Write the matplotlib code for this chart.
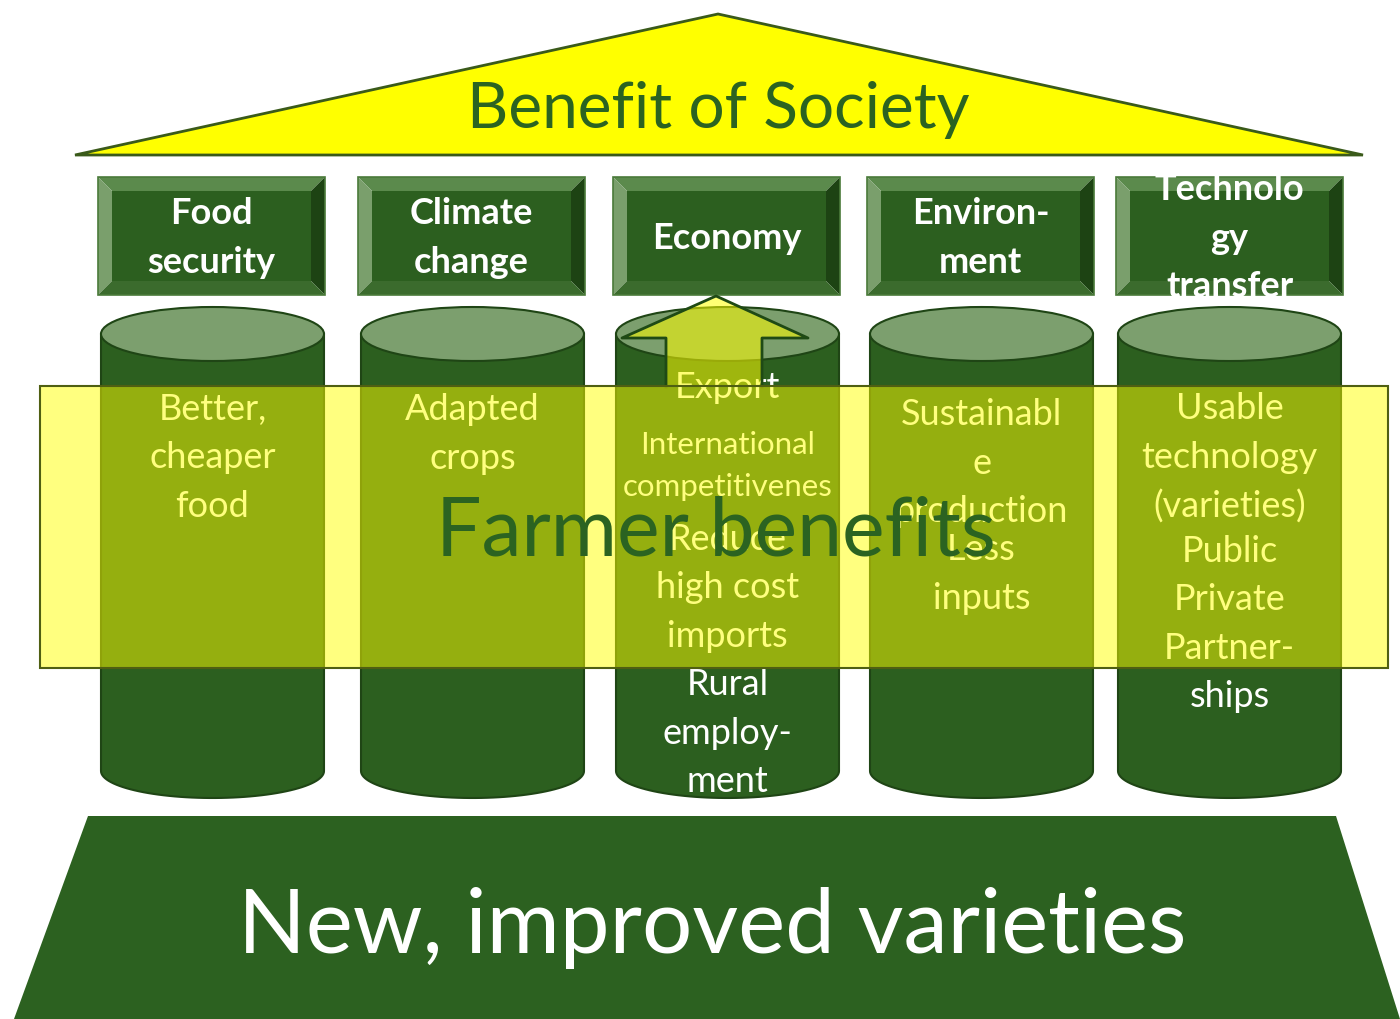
import matplotlib
matplotlib.use('Agg')
import matplotlib.pyplot as plt
import numpy as np
from matplotlib.patches import Polygon, Ellipse, Rectangle

# --- content ---
roof_title = "Benefit of Society"
pillar_heads = ["Food\nsecurity", "Climate\nchange", "Economy", "Environ-\nment", "Technolo\ngy\ntransfer"]
band_title = "Farmer benefits"
base_title = "New, improved varieties"
# (text, y position of block centre, font size) per cylinder
pillar_texts = [
    [("Better,\ncheaper\nfood", 458, 26)],
    [("Adapted\ncrops", 434, 26)],
    [("Export", 387, 26), ("International\ncompetitivenes", 466, 22.5),
     ("Reduce\nhigh cost\nimports", 588, 26), ("Rural\nemploy-\nment", 733, 26)],
    [("Sustainabl\ne\nproduction", 463, 26), ("Less\ninputs", 574, 26)],
    [("Usable\ntechnology\n(varieties)", 458, 26), ("Public\nPrivate\nPartner-\nships", 624, 26)],
]

# --- layout (pixels) ---
box_x = [98, 358, 613, 867, 1116]
box_w = 227
box_top, box_bot = 177, 295
cyl_x = [101, 361, 616, 870, 1118]
cyl_w = 223
cyl_top, cyl_bot, cyl_eh = 334, 771, 54

GREEN = '#2c5f1f'
DKGREEN = '#2b6321'
FONT = 'Lato'

fig = plt.figure(figsize=(14, 10.19), dpi=100)
ax = fig.add_axes([0, 0, 1, 1])
ax.set_xlim(0, 1400)
ax.set_ylim(1019, 0)
ax.axis('off')

# roof
ax.add_patch(Polygon([(75, 155), (718, 14), (1363, 155)], closed=True,
                     facecolor='#ffff00', edgecolor='#3a5a1a', lw=2, zorder=1))
ax.text(718, 110, roof_title, ha='center', va='center', fontsize=46,
        color=DKGREEN, family=FONT, zorder=2)

# bevelled boxes
b = 14
for x0, label in zip(box_x, pillar_heads):
    x1 = x0 + box_w
    y0, y1 = box_top, box_bot
    ax.add_patch(Polygon([(x0, y0), (x1, y0), (x1 - b, y0 + b), (x0 + b, y0 + b)],
                         facecolor='#5b8a4c', edgecolor='none', zorder=2))
    ax.add_patch(Polygon([(x0, y0), (x0 + b, y0 + b), (x0 + b, y1 - b), (x0, y1)],
                         facecolor='#7a9f6c', edgecolor='none', zorder=2))
    ax.add_patch(Polygon([(x1, y0), (x1, y1), (x1 - b, y1 - b), (x1 - b, y0 + b)],
                         facecolor='#1d4313', edgecolor='none', zorder=2))
    ax.add_patch(Polygon([(x0, y1), (x0 + b, y1 - b), (x1 - b, y1 - b), (x1, y1)],
                         facecolor='#3b6b2d', edgecolor='none', zorder=2))
    ax.add_patch(Rectangle((x0 + b, y0 + b), box_w - 2 * b, y1 - y0 - 2 * b,
                           facecolor=GREEN, edgecolor='none', zorder=2))
    ax.add_patch(Rectangle((x0, y0), box_w, y1 - y0, facecolor='none',
                           edgecolor='#4a7a3a', lw=1.2, zorder=3))
    ax.text(x0 + box_w / 2, (y0 + y1) / 2 + 2, label, ha='center', va='center',
            fontsize=26, fontweight='bold', color='white', family=FONT,
            linespacing=1.57, zorder=6)

# cylinders
t = np.linspace(0, np.pi, 60)
for x0, blocks in zip(cyl_x, pillar_texts):
    cx = x0 + cyl_w / 2
    rx, ry = cyl_w / 2, cyl_eh / 2
    pts = [(x0, cyl_top)]
    pts += list(zip(cx - rx * np.cos(t), cyl_bot + ry * np.sin(t)))
    pts += [(x0 + cyl_w, cyl_top)]
    ax.add_patch(Polygon(pts, closed=True, facecolor=GREEN, edgecolor='#1f4515',
                         lw=1.5, zorder=3))
    ax.add_patch(Ellipse((cx, cyl_top), cyl_w, cyl_eh, facecolor='#7c9f6e',
                         edgecolor='#1f4515', lw=1.5, zorder=3))
    for txt, yc, fs in blocks:
        ax.text(cx, yc, txt, ha='center', va='center', fontsize=fs, color='white',
                family=FONT, linespacing=1.57, zorder=4)

# arrow above economy
ax_x = [666, 666, 622, 716, 808, 762, 762]
ax_y = [387, 338, 338, 296, 338, 338, 387]
ax.add_patch(Polygon(list(zip(ax_x, ax_y)), closed=False, facecolor='#ffff00',
                     alpha=0.55, edgecolor='none', zorder=4))
ax.plot(ax_x, ax_y, color='#1f4a15', lw=2, zorder=4)

# transparent band
ax.add_patch(Rectangle((40, 386), 1348, 282, facecolor='#ffff00', alpha=0.5,
                       edgecolor='none', zorder=5))
ax.add_patch(Rectangle((40, 386), 1348, 282, facecolor='none',
                       edgecolor='#4f5f12', lw=1.5, zorder=5))
ax.text(716, 532, band_title, ha='center', va='center', fontsize=58,
        color=DKGREEN, family=FONT, zorder=6)

# base
ax.add_patch(Polygon([(88, 816), (1336, 816), (1400, 1019), (14, 1019)],
                     closed=True, facecolor='#2c6120', edgecolor='none', zorder=2))
ax.text(712, 928, base_title, ha='center', va='center', fontsize=64,
        color='white', family=FONT, zorder=3)

fig.savefig('out.png', dpi=100)
